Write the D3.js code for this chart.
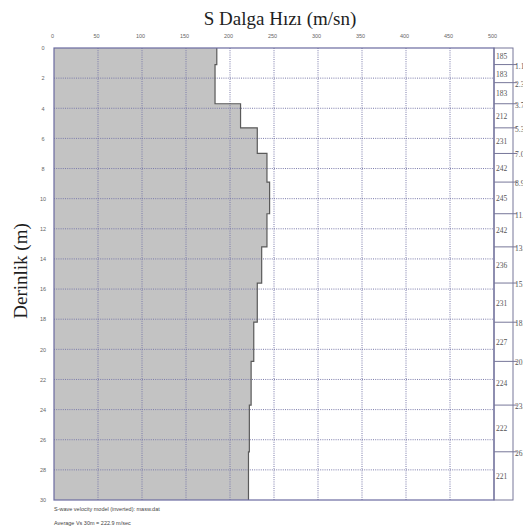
<!DOCTYPE html>
<html>
<head>
<meta charset="utf-8">
<script src="https://cdn.jsdelivr.net/npm/d3@7"></script>
<style>
  html, body { margin: 0; padding: 0; background: #fff; }
  svg { display: block; }
</style>
</head>
<body>
<svg id="chart" width="523" height="530"></svg>
<script>
// Layered S-wave velocity model (MASW inversion)
const layerVelocities = [185, 183, 183, 212, 231, 242, 245, 242, 236, 231, 227, 224, 222, 221];
const layerBottoms = [1.1, 2.3, 3.7, 5.3, 7.0, 8.9, 11.0, 13.2, 15.6, 18.2, 20.8, 23.7, 26.8, 30];
const boundaryLabels = ["1.1", "2.3", "3.7", "5.3", "7.0", "8.9", "11.0", "13.2", "15.6", "18.2", "20.8", "23.7", "26.8"];
const velocityTicks = [0, 50, 100, 150, 200, 250, 300, 350, 400, 450, 500];
const depthTicks = [0, 2, 4, 6, 8, 10, 12, 14, 16, 18, 20, 22, 24, 26, 28, 30];
const titleText = "S Dalga Hızı (m/sn)";
const yTitleText = "Derinlik (m)";
const noteLines = ["S-wave velocity model (inverted): masw.dat", "Average Vs 30m = 222.9 m/sec"];

(function () {
const svg = d3.select("#chart");
const plotL = 54, plotR = 494, plotT = 48, plotB = 500;
const colRight = 513;

const x = d3.scaleLinear().domain([0, 500]).range([plotL, plotR]);
const y = d3.scaleLinear().domain([0, 30]).range([plotT, plotB]);

// Step profile: each layer spans [d0, d1] at its velocity
const tops = [0].concat(layerBottoms.slice(0, -1));
const layers = layerVelocities.map((v, i) => ({ v, d0: tops[i], d1: layerBottoms[i] }));
const pts = [];
layers.forEach(l => { pts.push([l.v, l.d0]); pts.push([l.v, l.d1]); });

svg.append("path")
  .datum(pts)
  .attr("d", d3.area().y(d => y(d[1])).x0(x(0)).x1(d => x(d[0])))
  .attr("fill", "#c3c3c3");

// Grid
const gridColor = "#7a7aaa";
svg.append("g").selectAll("line")
  .data(velocityTicks.filter(v => v > 0 && v < 500))
  .join("line")
  .attr("x1", d => x(d)).attr("x2", d => x(d))
  .attr("y1", plotT).attr("y2", plotB)
  .attr("stroke", gridColor).attr("stroke-width", 1)
  .attr("stroke-dasharray", "1,1.2");
svg.append("g").selectAll("line")
  .data(depthTicks.filter(d => d > 0 && d < 30))
  .join("line")
  .attr("x1", plotL).attr("x2", plotR)
  .attr("y1", d => y(d)).attr("y2", d => y(d))
  .attr("stroke", gridColor).attr("stroke-width", 1)
  .attr("stroke-dasharray", "1,1.2");

// Profile outline
svg.append("path")
  .datum(pts)
  .attr("d", d3.line().x(d => x(d[0])).y(d => y(d[1])))
  .attr("fill", "none")
  .attr("stroke", "#5a5a5a")
  .attr("stroke-width", 1.2);

// Frame
const frameColor = "#6b6ba0";
svg.append("rect")
  .attr("x", plotL).attr("y", plotT)
  .attr("width", plotR - plotL).attr("height", plotB - plotT)
  .attr("fill", "none").attr("stroke", frameColor).attr("stroke-width", 1.2);

// Right-hand layer column
svg.append("rect")
  .attr("x", plotR).attr("y", plotT)
  .attr("width", colRight - plotR).attr("height", plotB - plotT)
  .attr("fill", "none").attr("stroke", "#777799").attr("stroke-width", 1);
svg.append("g").selectAll("line")
  .data(layerBottoms.slice(0, -1))
  .join("line")
  .attr("x1", plotR).attr("x2", colRight + 4)
  .attr("y1", d => y(d)).attr("y2", d => y(d))
  .attr("stroke", "#777799").attr("stroke-width", 1);
svg.append("g").selectAll("text")
  .data(layers)
  .join("text")
  .attr("x", plotR + 2)
  .attr("y", d => (y(d.d0) + y(d.d1)) / 2 + 3)
  .attr("font-family", "Liberation Serif, serif")
  .attr("font-size", 7.5)
  .attr("fill", "#555")
  .text(d => d.v);
svg.append("g").selectAll("text")
  .data(boundaryLabels)
  .join("text")
  .attr("x", colRight + 2)
  .attr("y", (d, i) => y(layerBottoms[i]) + 4)
  .attr("font-family", "Liberation Serif, serif")
  .attr("font-size", 7.5)
  .attr("fill", "#555")
  .text(d => d);

// Axis tick labels
const xAxis = d3.axisTop(x).tickValues(velocityTicks).tickSize(0).tickPadding(0);
const gx = svg.append("g").attr("transform", `translate(-2,${plotT - 10})`).call(xAxis);
gx.select(".domain").remove();
gx.selectAll("text").attr("font-family", "Liberation Sans, Arial, sans-serif").attr("font-size", 5.5).attr("fill", "#666");

const yAxis = d3.axisLeft(y).tickValues(depthTicks).tickSize(0).tickPadding(0);
const gy = svg.append("g").attr("transform", `translate(${plotL - 11},0)`).call(yAxis);
gy.select(".domain").remove();
gy.selectAll("text").attr("font-family", "Liberation Sans, Arial, sans-serif").attr("font-size", 5.5).attr("fill", "#666").attr("text-anchor", "middle");

// Titles
svg.append("text")
  .attr("x", 280).attr("y", 25)
  .attr("text-anchor", "middle")
  .attr("font-family", "Liberation Serif, serif")
  .attr("font-size", 19)
  .attr("fill", "#1e1e1e")
  .text(titleText);
svg.append("text")
  .attr("transform", "translate(27,271) rotate(-90)")
  .attr("text-anchor", "middle")
  .attr("font-family", "Liberation Serif, serif")
  .attr("font-size", 19)
  .attr("fill", "#1e1e1e")
  .text(yTitleText);

// Notes below the plot
svg.append("g").selectAll("text")
  .data(noteLines)
  .join("text")
  .attr("x", plotL)
  .attr("y", (d, i) => 511 + i * 14)
  .attr("font-family", "Liberation Sans, Arial, sans-serif")
  .attr("font-size", 5.5)
  .attr("fill", "#444")
  .text(d => d);
})();
</script>
</body>
</html>
